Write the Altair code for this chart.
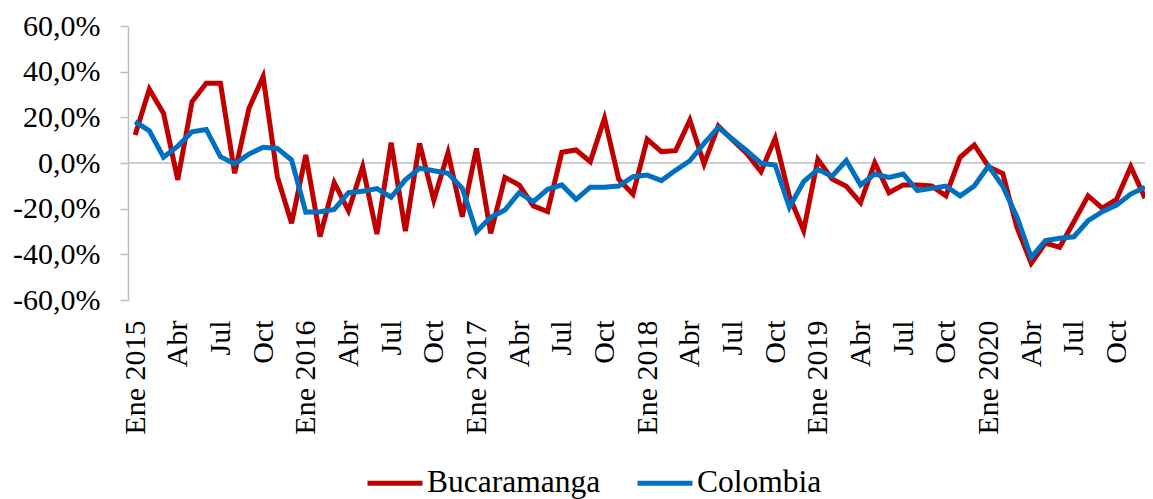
import json
import altair as alt
import pandas as pd

# Monthly months Jan 2015 .. Dec 2020
years = [2015, 2016, 2017, 2018, 2019, 2020]

# x-axis tick labels (every 3 months)
tick_labels = []
for y in years:
    tick_labels += [f"Ene {y}", "Abr", "Jul", "Oct"]

bucaramanga = [
    12.3, 32.3, 21.7, -7.4, 26.8, 34.9, 34.9, -4.5, 23.9, 37.8, -6.0, -26.4,
    3.5, -32.2, -8.6, -20.9, -1.6, -31.1, 8.9, -29.8, 8.6, -16.2, 4.5, -23.5,
    6.4, -30.8, -6.3, -9.6, -18.8, -21.3, 4.7, 5.7, 0.6, 19.6, -7.1, -13.7,
    10.4, 5.0, 5.4, 18.8, -0.4, 16.2, 10.1, 4.2, -3.8, 10.8, -14.7, -29.6,
    1.6, -7.0, -10.2, -17.4, 0.1, -13.0, -9.6, -9.6, -10.1, -14.4, 2.5, 7.9,
    -1.6, -4.6, -28.2, -43.9, -35.1, -36.9, -25.7, -14.4, -19.8, -15.9, -1.6, -15.4,
]

colombia = [
    18.1, 14.1, 2.5, 7.4, 13.7, 14.7, 2.8, -0.4, 3.9, 6.9, 6.4, 1.3,
    -21.5, -21.3, -20.3, -13.0, -12.4, -11.2, -15.0, -7.4, -2.3, -3.4, -4.5, -11.1,
    -30.1, -23.8, -20.6, -13.0, -16.9, -11.5, -9.6, -15.9, -10.6, -10.6, -10.1, -6.0,
    -5.3, -7.7, -3.2, 1.0, 8.6, 15.6, 10.4, 5.4, -0.1, -0.9, -19.4, -8.2,
    -2.8, -5.8, 1.1, -9.6, -4.8, -6.3, -4.8, -12.1, -11.1, -10.1, -14.4, -10.1,
    -1.3, -10.2, -23.6, -41.3, -34.0, -33.0, -32.3, -25.3, -21.3, -18.4, -13.6, -10.6,
]

series_names = ["Bucaramanga", "Colombia"]
colors = ["#C00000", "#0070C0"]

rows = []
for name, vals in zip(series_names, [bucaramanga, colombia]):
    for i, v in enumerate(vals):
        rows.append({"idx": i, "serie": name, "valor": v / 100.0})
df = pd.DataFrame(rows)

FONT = "Liberation Serif"
n = len(bucaramanga)

x_label_expr = json.dumps(tick_labels) + "[round(datum.value/3)]"
y_label_expr = "replace(replace(format(datum.value, '.1%'), '.', ','), '\u2212', '-')"

x_scale = alt.Scale(domain=[-0.5, n - 1], nice=False, zero=False)
y_scale = alt.Scale(domain=[-0.6, 0.6], nice=False)

y_axis = alt.Axis(
    values=[-0.6, -0.4, -0.2, 0.0, 0.2, 0.4, 0.6],
    labelExpr=y_label_expr,
    labelFont=FONT,
    labelFontSize=30,
    labelColor="black",
    labelPadding=20,
    tickSize=8,
    tickColor="#BFBFBF",
    tickWidth=1.5,
    domainColor="#BFBFBF",
    domainWidth=1.5,
    grid=False,
    title=None,
    labelOverlap=False,
    labelBound=False,
    labelFlush=False,
)

x_axis = alt.Axis(
    values=list(range(0, n, 3)),
    labelExpr=x_label_expr,
    labelAngle=-90,
    labelFont=FONT,
    labelFontSize=30,
    labelColor="black",
    labelPadding=20,
    ticks=False,
    domain=False,
    grid=False,
    title=None,
    labelOverlap=False,
    labelBound=False,
    labelFlush=False,
)

zero = alt.Chart(pd.DataFrame({"v": [0.0]})).mark_rule(
    color="#BFBFBF", strokeWidth=1.5
).encode(
    y=alt.Y("v:Q", scale=y_scale, axis=y_axis),
)

lines = alt.Chart(df).mark_line(strokeWidth=5, clip=True).encode(
    x=alt.X("idx:Q", scale=x_scale, axis=x_axis),
    y=alt.Y("valor:Q", scale=y_scale, axis=y_axis),
    color=alt.Color(
        "serie:N",
        scale=alt.Scale(domain=series_names, range=colors),
        legend=alt.Legend(
            title=None,
            orient="none",
            direction="horizontal",
            legendX=237,
            legendY=427,
            symbolType="stroke",
            symbolSize=3025,
            symbolStrokeWidth=5,
            labelFont=FONT,
            labelFontSize=31.5,
            labelColor="black",
            labelOffset=2,
            labelLimit=400,
            columnPadding=26,
        ),
    ),
)

chart = alt.layer(zero, lines).properties(
    width=1017,
    height=274,
    autosize=alt.AutoSizeParams(type="none"),
    padding={"left": 120, "top": 18, "right": 0, "bottom": 199},
    background="white",
).configure_view(stroke=None)

chart.save("out.html", embed_options={"renderer": "svg", "actions": False})
